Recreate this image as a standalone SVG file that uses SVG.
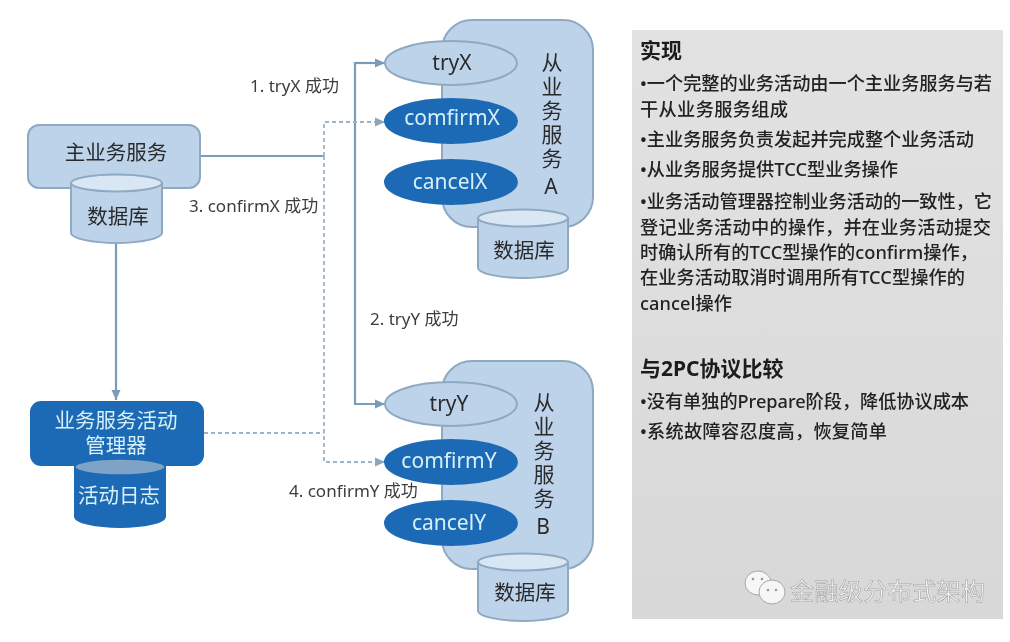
<svg xmlns="http://www.w3.org/2000/svg" width="1010" height="642" viewBox="0 0 1010 642">
<style>
text{font-family:"Noto Sans","Noto Sans CJK SC",sans-serif;dominant-baseline:central;fill:#2b2b2b}
.c{text-anchor:middle}
.lt{fill:#bdd3ea;stroke:#8ea9c0;stroke-width:2}
.top{fill:#d9e6f3;stroke:#8ea9c0;stroke-width:2}
.dk{fill:#1f6bb5;stroke:#1f6bb5;stroke-width:2}
.dktop{fill:#7ea3c6;stroke:#1f6bb5;stroke-width:1.5}
.w{fill:#d5f0f8}
.n{font-size:20.500px}
.e{font-size:21px}
.v{font-size:21px;writing-mode:vertical-rl;text-orientation:upright;letter-spacing:3px}
.lab{font-size:17px;fill:#3c3c3c}
.p{font-size:18.200px;fill:#222;font-weight:500}
.h{font-size:21px;font-weight:700;fill:#1a1a1a}
.s{fill:none;stroke:#7a9cb8;stroke-width:2.200}
.d{fill:none;stroke:#9db4c6;stroke-width:1.800;stroke-dasharray:4 3}
.bub{fill:#f6f6f6;stroke:#a8a8a8}
.eye{fill:#9a9a9a}
</style>
<defs>
<marker id="a" markerUnits="userSpaceOnUse" markerWidth="12" markerHeight="12" refX="10" refY="6" orient="auto"><path d="M0 1.500L10 6L0 10.500Z" fill="#7a9cb8"/></marker>
<marker id="b" markerUnits="userSpaceOnUse" markerWidth="12" markerHeight="12" refX="10" refY="6" orient="auto"><path d="M0 1.500L10 6L0 10.500Z" fill="#8aa6bb"/></marker>
<linearGradient id="pg" x1="0" y1="0" x2="0" y2="1"><stop offset="0" stop-color="#e2e2e2"/><stop offset="1" stop-color="#d8d8d8"/></linearGradient>
<filter id="soft" x="-5%" y="-5%" width="110%" height="110%"><feGaussianBlur stdDeviation="0.450"/></filter>
</defs>
<rect width="1010" height="642" fill="#fff"/>
<g filter="url(#soft)">
<g id="connectors">
<path class="s" d="M201 156H324"/>
<path class="s" d="M385 63H355V404H385" marker-end="url(#a)"/>
<path class="s" d="M355 63H385" marker-end="url(#a)"/>
<path class="s" d="M116 243V400" marker-end="url(#a)"/>
<path class="d" d="M324 156V122H385" marker-end="url(#b)"/>
<path class="d" d="M324 156V462H385" marker-end="url(#b)"/>
<path class="d" d="M204 433H324"/>
</g>
<g id="main-service">
<rect class="lt" x="28" y="125" width="172" height="63" rx="11"/>
<text class="c n" x="116" y="152">主业务服务</text>
</g>
<g id="main-db">
<path class="lt" d="M71 183V233C71 238 91 243 116.500 243S162 238 162 233V183Z"/>
<ellipse class="top" cx="116.500" cy="183" rx="45.500" ry="8.500"/>
<text class="c n" x="118" y="216">数据库</text>
</g>
<g id="manager">
<rect class="dk" x="31" y="402" width="172" height="63" rx="10"/>
<text class="c n w" x="116" y="420">业务服务活动<tspan x="116" dy="25">管理器</tspan></text>
</g>
<g id="log-db">
<path class="dk" d="M75 467V517C75 522 95 527 120 527S165 522 165 517V467Z"/>
<ellipse class="dktop" cx="120" cy="467" rx="45" ry="8"/>
<text class="c n w" x="119" y="495">活动日志</text>
</g>
<g id="service-a">
<rect class="lt" x="442" y="20" width="151" height="207" rx="30"/>
<text class="v" x="551" y="52">从业务服务A</text>
</g>
<g id="tryx"><ellipse class="lt" cx="451" cy="63" rx="66" ry="22"/><text class="c e" x="452" y="62">tryX</text></g>
<g id="confirmx"><ellipse class="dk" cx="451" cy="121" rx="66" ry="22"/><text class="c e w" x="452" y="117">comfirmX</text></g>
<g id="cancelx"><ellipse class="dk" cx="451" cy="182" rx="66" ry="22"/><text class="c e w" x="450" y="181">cancelX</text></g>
<g id="db-a">
<path class="lt" d="M478 218V268C478 273 498 278 523 278S568 273 568 268V218Z"/>
<ellipse class="top" cx="523" cy="218" rx="45" ry="8.500"/>
<text class="c n" x="524" y="250">数据库</text>
</g>
<g id="service-b">
<rect class="lt" x="442" y="361" width="151" height="208" rx="30"/>
<text class="v" x="543" y="392">从业务服务B</text>
</g>
<g id="tryy"><ellipse class="lt" cx="451" cy="404" rx="66" ry="22"/><text class="c e" x="449" y="403">tryY</text></g>
<g id="confirmy"><ellipse class="dk" cx="451" cy="462" rx="66" ry="22"/><text class="c e w" x="449" y="460">comfirmY</text></g>
<g id="cancely"><ellipse class="dk" cx="451" cy="523" rx="66" ry="22"/><text class="c e w" x="449" y="522">cancelY</text></g>
<g id="db-b">
<path class="lt" d="M478 562V611C478 616 498 621 523 621S568 616 568 611V562Z"/>
<ellipse class="top" cx="523" cy="562" rx="45" ry="8.500"/>
<text class="c n" x="525" y="592">数据库</text>
</g>
<g id="labels">
<text class="lab" x="250" y="85">1. tryX 成功</text>
<text class="lab" x="189" y="205">3. confirmX 成功</text>
<text class="lab" x="370" y="318">2. tryY 成功</text>
<text class="lab" x="289" y="490">4. confirmY 成功</text>
</g>
<g id="panel">
<rect x="632" y="30" width="371" height="589" fill="url(#pg)"/>
<text class="h" x="640" y="50">实现</text>
<text class="p" x="640" y="83" textLength="352">•一个完整的业务活动由一个主业务服务与若</text>
<text class="p" x="640" y="109" textLength="148">干从业务服务组成</text>
<text class="p" x="640" y="139" textLength="334">•主业务服务负责发起并完成整个业务活动</text>
<text class="p" x="640" y="169" textLength="258">•从业务服务提供TCC型业务操作</text>
<text class="p" x="640" y="201" textLength="352">•业务活动管理器控制业务活动的一致性，它</text>
<text class="p" x="640" y="227" textLength="351">登记业务活动中的操作，并在业务活动提交</text>
<text class="p" x="640" y="252" textLength="338">时确认所有的TCC型操作的confirm操作，</text>
<text class="p" x="640" y="277" textLength="325">在业务活动取消时调用所有TCC型操作的</text>
<text class="p" x="640" y="303" textLength="92">cancel操作</text>
<text class="h" x="640" y="368">与2PC协议比较</text>
<text class="p" x="640" y="401" textLength="329">•没有单独的Prepare阶段，降低协议成本</text>
<text class="p" x="640" y="431" textLength="247">•系统故障容忍度高，恢复简单</text>
</g>
<g id="watermark">
<ellipse class="bub" cx="758" cy="583" rx="13" ry="12"/>
<ellipse class="bub" cx="772" cy="592" rx="13" ry="12"/>
<circle class="eye" cx="753" cy="579" r="1.300"/><circle class="eye" cx="762" cy="579" r="1.300"/>
<circle class="eye" cx="768" cy="590" r="1.300"/><circle class="eye" cx="776" cy="590" r="1.300"/>
<text x="790" y="590" font-size="24" textLength="195" style="fill:#f2f2f2;stroke:#9a9a9a;stroke-width:.500">金融级分布式架构</text>
</g>
</g>
</svg>
